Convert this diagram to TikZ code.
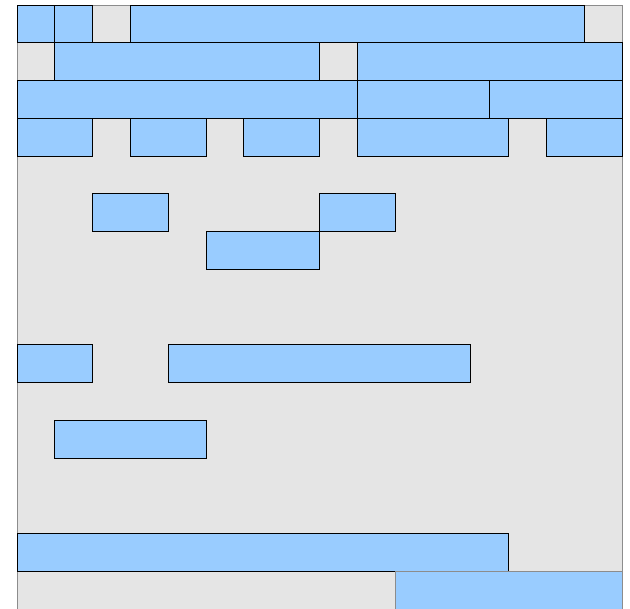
\documentclass[tikz,border=0pt]{standalone}
\usetikzlibrary{calc}
\definecolor{bggray}{HTML}{E5E5E5}
\definecolor{bgline}{HTML}{8C8C8C}
\definecolor{boxblue}{HTML}{99CCFF}
\tikzset{
  bg/.style={fill=bggray,draw=bgline,line width=0.8pt},
  blk/.style={fill=boxblue,draw=black,line width=0.8pt},
}
% column i -> x, row j -> y (top of row j)
\newcommand{\cx}[1]{(17+37.8125*(#1))}
\newcommand{\ry}[1]{(609-5-37.75*(#1))}
\newcommand{\blkbox}[3]{% col start, row, col end
  \path[blk] ({\cx{#1}},{\ry{#2+1}}) rectangle ({\cx{#3}},{\ry{#2}});}
\begin{document}
\begin{tikzpicture}[x=1pt,y=1pt]
\useasboundingbox (0,0) rectangle (630,609);
\path[bg] (17,-5) rectangle (622,604);
\draw[bgline,line width=0.8pt] ({\cx{0}},{\ry{15}}) -- ({\cx{16}},{\ry{15}});
% row 0
\blkbox{0}{0}{1}
\blkbox{1}{0}{2}
\blkbox{3}{0}{15}
% row 1
\blkbox{1}{1}{8}
\blkbox{9}{1}{16}
% row 2
\blkbox{0}{2}{9}
\blkbox{9}{2}{12.5}
\blkbox{12.5}{2}{16}
% row 3
\blkbox{0}{3}{2}
\blkbox{3}{3}{5}
\blkbox{6}{3}{8}
\blkbox{9}{3}{13}
\blkbox{14}{3}{16}
% row 5
\blkbox{2}{5}{4}
\blkbox{8}{5}{10}
% row 6
\blkbox{5}{6}{8}
% row 9
\blkbox{0}{9}{2}
\blkbox{4}{9}{12}
% row 11
\blkbox{1}{11}{5}
% row 14
\blkbox{0}{14}{13}
% row 15
\path[blk,draw=bgline] ({\cx{10}},-5) rectangle ({\cx{16}},{\ry{15}});
\end{tikzpicture}
\end{document}
